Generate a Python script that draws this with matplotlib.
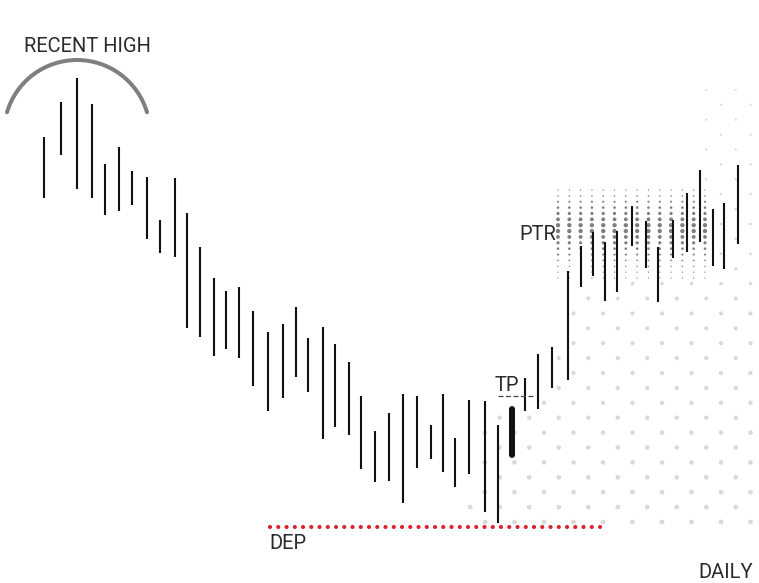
import numpy as np
import matplotlib
matplotlib.use("Agg")
import matplotlib.pyplot as plt
from matplotlib.patches import Arc

plt.rcParams['font.family'] = ['Roboto', 'DejaVu Sans']

# daily bars, positions (chart units, y grows downward)
bar_x = [44, 61, 77, 92, 105, 119, 132, 147, 160, 175, 187, 200, 214, 226, 239,
         253, 268, 283, 296, 308, 323, 335, 349, 361, 375, 389, 403, 417, 431, 443,
         455, 469, 485, 498, 525, 538, 552, 568, 581, 593, 605, 617, 632, 646, 658,
         673, 687, 700, 713, 724, 738]
bar_top = [137, 102, 78, 104, 164, 147, 171, 177, 220, 178, 213, 247, 278, 291, 287,
           311, 332, 324, 307, 338, 327, 344, 362, 396, 431, 413, 394, 396, 425, 394,
           438, 400, 401, 425, 378, 354, 347, 271, 246, 232, 242, 231, 206, 221, 247,
           220, 193, 170, 209, 203, 165]
bar_bottom = [198, 155, 189, 198, 215, 211, 205, 239, 253, 257, 328, 337, 356, 349, 358,
              386, 411, 398, 377, 392, 439, 427, 435, 469, 482, 481, 503, 468, 459, 472,
              487, 474, 512, 523, 411, 409, 388, 380, 287, 276, 301, 292, 246, 268, 302,
              258, 252, 242, 266, 269, 244]

# entry bar (thick)
entry_x = 512
entry_top = 406
entry_bottom = 458

tp_level = 396
tp_start, tp_end = 498, 533
dep_level = 527
dep_start, dep_end = 270, 605

# recent high arc
arc_center = (77, 133)
arc_radius = 73

# PTR zone grid
ptr_cols = np.linspace(558, 705, 14)
ptr_rows = np.linspace(190, 278, 16)
ptr_diam = [1.3, 1.6, 2.1, 2.6, 3.2, 3.8, 4.3, 4.3, 3.8, 3.2, 2.6, 2.1, 1.7, 1.4, 1.3, 1.3]

# left edge of the light dot field
edge_y = [90, 260, 268, 283, 298, 313, 343, 358, 388, 403, 418, 433, 448, 462, 477, 492, 507, 522]
edge_x = [700, 700, 665, 620, 582, 570, 560, 550, 550, 535, 490, 480, 490, 480, 478, 480, 466, 470]

fig = plt.figure(figsize=(7.59, 5.83), dpi=100)
ax = fig.add_axes([0, 0, 1, 1])
ax.set_xlim(0, 759)
ax.set_ylim(583, 0)
ax.axis('off')

# light dot field
dx, dy = 14.75, 14.9
pts = []
for i in range(30):
    y = 522 - dy * i
    for k in range(-2, 19):
        if (k - i) % 2:
            continue
        x = 485 + dx * k
        if x < np.interp(y, edge_y, edge_x) or x > 756:
            continue
        if 550 < x < 712 and 186 < y < 281:
            continue
        pts.append((x, y))
pts = np.array(pts)
diam = np.interp(pts[:, 1], [90, 260, 300, 522], [2.0, 2.8, 4.0, 4.8])
ax.scatter(pts[:, 0], pts[:, 1], s=(diam * 0.72) ** 2, color='#d9d9d9', lw=0, zorder=1)

# PTR zone
gx, gy = np.meshgrid(ptr_cols, ptr_rows)
gd = np.repeat(np.array(ptr_diam)[:, None], len(ptr_cols), axis=1)
ax.scatter(gx.ravel(), gy.ravel(), s=(gd.ravel() * 0.72) ** 2, color='#7f7f7f', lw=0, zorder=2)

# bars
ax.vlines(bar_x, bar_top, bar_bottom, color='#111111', lw=1.5, zorder=3)
ax.plot([entry_x, entry_x], [entry_top + 3, entry_bottom - 3], color='#111111',
        lw=4.3, solid_capstyle='round', zorder=3)

# arc
ax.add_patch(Arc(arc_center, 2 * arc_radius, 2 * arc_radius, theta1=196.5, theta2=343.5,
                 color='#7f7f7f', lw=2.9, capstyle='round', zorder=3))

# TP and DEP lines
ax.plot([tp_start, tp_end], [tp_level, tp_level], color='#444444', lw=0.9,
        linestyle=(0, (4, 2)), zorder=3)
ax.plot([dep_start, dep_end], [dep_level, dep_level], color='#d9232d', lw=3.0,
        linestyle=(0, (0.01, 1.97)), dash_capstyle='round', zorder=3)

txt = dict(fontsize=14.5, color='#2b2b2b', va='baseline', ha='left')
ax.text(24, 52.5, 'RECENT HIGH', **txt)
ax.text(519, 240, 'PTR', **txt)
ax.text(495, 391, 'TP', **txt)
ax.text(269, 549, 'DEP', **txt)
ax.text(698, 578, 'DAILY', **txt)

fig.savefig('out.png', dpi=100)
